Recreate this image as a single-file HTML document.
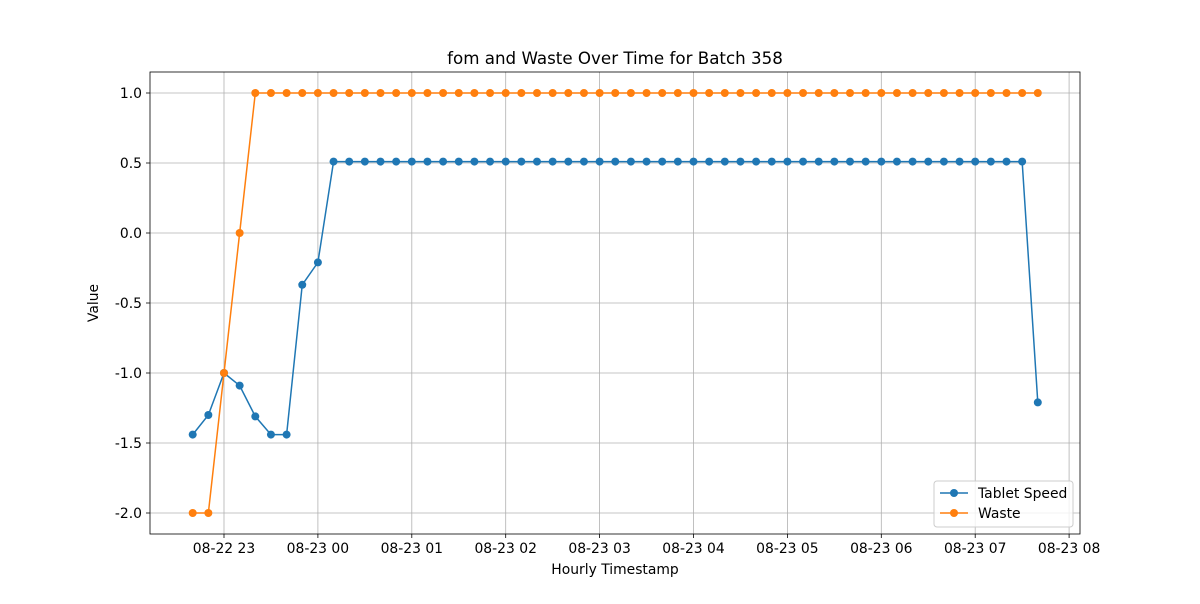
<!DOCTYPE html>
<html><head><meta charset="utf-8"><style>
body{margin:0;background:#fff;font-family:"DejaVu Sans","Liberation Sans",sans-serif;}
</style></head><body>
<svg id="chart" width="1200" height="600" xmlns="http://www.w3.org/2000/svg" style="font-family:'DejaVu Sans','Liberation Sans',sans-serif"></svg>
<script>
const xTickLabels=["08-22 23","08-23 00","08-23 01","08-23 02","08-23 03","08-23 04","08-23 05","08-23 06","08-23 07","08-23 08"];
const yTicks=[1.0,0.5,0.0,-0.5,-1.0,-1.5,-2.0];
const tabletSpeed=[-1.44,-1.30,-1.0,-1.09,-1.31,-1.44,-1.44,-0.37,-0.21,
0.51,0.51,0.51,0.51,0.51,0.51,0.51,0.51,0.51,0.51,0.51,0.51,0.51,0.51,0.51,
0.51,0.51,0.51,0.51,0.51,0.51,0.51,0.51,0.51,0.51,0.51,0.51,0.51,0.51,0.51,
0.51,0.51,0.51,0.51,0.51,0.51,0.51,0.51,0.51,0.51,0.51,0.51,0.51,0.51,0.51,-1.21];
const waste=[-2,-2,-1,0,1,1,1,1,1,1,1,1,1,1,1,1,1,1,1,1,1,1,1,1,1,1,1,1,1,1,
1,1,1,1,1,1,1,1,1,1,1,1,1,1,1,1,1,1,1,1,1,1,1,1,1];
const startMinutes=40;
const stepMinutes=10;

const svg=document.getElementById('chart');
const NS="http://www.w3.org/2000/svg";
const L=150,R=1080,T=72,B=534;
const xHour=h=>224+(h-1)*93.9;
const xIdx=i=>xHour((startMinutes+i*stepMinutes)/60);
const y=v=>93+(1-v)*140;
function mk(tag,attrs,parent){const e=document.createElementNS(NS,tag);for(const k in attrs)e.setAttribute(k,attrs[k]);(parent||svg).appendChild(e);return e;}

const grid=mk('g',{});


xTickLabels.forEach((lab,i)=>{
  const x=xHour(i+1);
  mk('line',{x1:x,x2:x,y1:T,y2:B,stroke:'#b0b0b0','stroke-width':0.8},grid);
  mk('line',{x1:x,x2:x,y1:B,y2:B+4,stroke:'#000','stroke-width':0.8});
  const t=mk('text',{x:x,y:B+19,'text-anchor':'middle','font-size':13.9});
  t.textContent=lab;
  
  
});
yTicks.forEach(v=>{
  const yy=y(v);
  mk('line',{x1:L,x2:R,y1:yy,y2:yy,stroke:'#b0b0b0','stroke-width':0.8},grid);
  mk('line',{x1:L-4,x2:L,y1:yy,y2:yy,stroke:'#000','stroke-width':0.8});
  const t=mk('text',{x:L-8,y:yy+5,'text-anchor':'end','font-size':13.9});
  t.textContent=v.toFixed(1);
  
  
});
const frame=mk('rect',{x:L,y:T,width:R-L,height:B-T,fill:'none',stroke:'#000','stroke-width':0.8});



function series(data,color,name){
  const g=mk('g',{});
  
  
  mk('polyline',{points:data.map((v,i)=>xIdx(i)+','+y(v)).join(' '),fill:'none',stroke:color,'stroke-width':1.5},g);
  data.forEach((v,i)=>{
    const c=mk('circle',{cx:xIdx(i),cy:y(v),r:4,fill:color},g);
    
    
  });
}
series(tabletSpeed,'#1f77b4','tablet-speed-series');
series(waste,'#ff7f0e','waste-series');

const title=mk('text',{x:615,y:64,'text-anchor':'middle','font-size':16.7});
title.textContent='fom and Waste Over Time for Batch 358';


const xt=mk('text',{x:615,y:574,'text-anchor':'middle','font-size':13.9});
xt.textContent='Hourly Timestamp';


const yt=mk('text',{x:0,y:0,'text-anchor':'middle','font-size':13.9,transform:'translate(98,303) rotate(-90)'});
yt.textContent='Value';



const lg=mk('g',{});


mk('rect',{x:934,y:481,width:139,height:46,rx:3,fill:'#fff','fill-opacity':0.8,stroke:'#ccc'},lg);
[['Tablet Speed','#1f77b4',493],['Waste','#ff7f0e',513]].forEach(([n,c,yy])=>{
  const e=mk('g',{},lg);
  
  
  mk('line',{x1:940,x2:968,y1:yy,y2:yy,stroke:c,'stroke-width':1.5},e);
  mk('circle',{cx:954,cy:yy,r:4,fill:c},e);
  const t=mk('text',{x:978,y:yy+5,'font-size':13.9},e);
  t.textContent=n;
});
</script>
</body></html>
